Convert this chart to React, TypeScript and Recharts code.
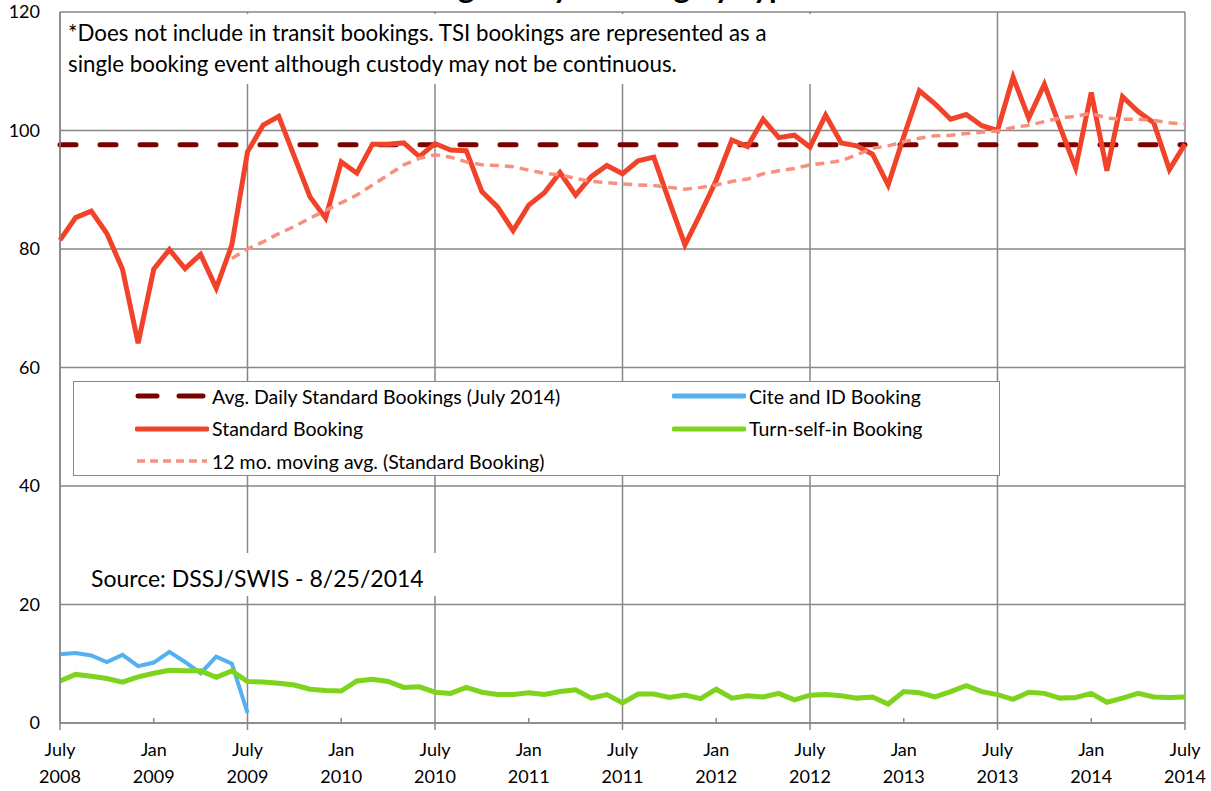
import React from 'react';
import { LineChart, Line, XAxis, YAxis, CartesianGrid, Legend } from 'recharts';

// months since July 2008 (0 = July 2008 ... 72 = July 2014)
const MONTH_COUNT = 73;

const TICK_LABELS = [
  ['July', '2008'], ['Jan', '2009'], ['July', '2009'], ['Jan', '2010'], ['July', '2010'],
  ['Jan', '2011'], ['July', '2011'], ['Jan', '2012'], ['July', '2012'], ['Jan', '2013'],
  ['July', '2013'], ['Jan', '2014'], ['July', '2014'],
];
const X_TICKS = [0, 6, 12, 18, 24, 30, 36, 42, 48, 54, 60, 66, 72];
const JULY_TICKS = [0, 12, 24, 36, 48, 60, 72];
const Y_TICKS = [0, 20, 40, 60, 80, 100, 120];

const AVG_JULY_2014 = 97.6;

const standardBooking = [
  81.5, 85.3, 86.4, 82.6, 76.6, 64.1, 76.6, 79.9, 76.7, 79.1, 73.4, 80.7,
  96.4, 100.9, 102.4, 95.6, 88.8, 85.2, 94.7, 92.8, 97.7, 97.7, 97.9, 95.6,
  97.8, 96.7, 96.6, 89.7, 87.1, 83.1, 87.4, 89.5, 92.9, 89.1, 92.2, 94.1,
  92.7, 94.9, 95.5, 88.0, 80.7, 86.0, 91.6, 98.4, 97.3, 101.9, 98.8, 99.2,
  97.2, 102.6, 97.9, 97.4, 96.0, 90.8, 99.0, 106.7, 104.5, 101.9, 102.7, 100.8,
  100.0, 109.0, 102.1, 107.8, 100.6, 93.7, 106.4, 93.2, 105.7, 103.2, 101.3, 93.4, 97.7,
];

const movingAvg = [
  null, null, null, null, null, null, null, null, null, null, null, 78.4,
  80.0, 81.2, 82.6, 83.8, 85.2, 86.5, 87.8, 89.1, 90.8, 92.5, 94.2, 95.3,
  95.9, 95.5, 94.7, 94.2, 94.1, 93.9, 93.3, 92.8, 92.5, 91.9, 91.4, 91.2,
  91.0, 90.8, 90.7, 90.4, 90.1, 90.4, 90.8, 91.4, 91.8, 92.7, 93.2, 93.6,
  94.2, 94.5, 94.9, 95.9, 97.0, 97.4, 98.1, 98.7, 99.1, 99.2, 99.5, 99.7,
  99.9, 100.5, 100.9, 101.5, 102.1, 102.4, 102.9, 102.1, 101.9, 101.9, 101.7, 101.3, 101.1,
];

const citeIdBooking = [11.6, 11.8, 11.4, 10.3, 11.5, 9.6, 10.2, 12.0, 10.3, 8.4, 11.2, 10.0, 1.7];

const tsiBooking = [
  7.1, 8.2, 7.9, 7.5, 6.9, 7.8, 8.4, 8.9, 8.8, 8.8, 7.7, 8.8,
  7.0, 6.9, 6.7, 6.4, 5.7, 5.5, 5.4, 7.1, 7.4, 7.0, 6.0, 6.1,
  5.2, 5.0, 6.0, 5.2, 4.8, 4.8, 5.1, 4.8, 5.3, 5.6, 4.2, 4.8,
  3.4, 4.9, 4.9, 4.3, 4.7, 4.1, 5.7, 4.2, 4.6, 4.4, 5.0, 3.9,
  4.7, 4.8, 4.6, 4.2, 4.4, 3.2, 5.3, 5.1, 4.4, 5.3, 6.3, 5.3,
  4.8, 4.0, 5.2, 5.0, 4.2, 4.3, 5.0, 3.5, 4.2, 5.0, 4.4, 4.3, 4.4,
];

const C_AVG = '#7b0000';
const C_STD = '#f0432a';
const C_MA = '#f7907f';
const C_CITE = '#55b0ef';
const C_TSI = '#7ed31c';
const GRID = '#878787';
const FONT = 'Lato, "Noto Sans", sans-serif';

const data = Array.from({ length: MONTH_COUNT }, (_, i) => ({
  month: i,
  avg: AVG_JULY_2014,
  cite: i < citeIdBooking.length ? citeIdBooking[i] : null,
  standard: standardBooking[i],
  tsi: tsiBooking[i],
  ma: movingAvg[i],
}));

const XTick = (props: any) => {
  const { x, y, payload } = props;
  const label = TICK_LABELS[X_TICKS.indexOf(payload.value)] || ['', ''];
  const july = payload.value % 12 === 0;
  return (
    <g>
      {july
        ? <line x1={x} x2={x} y1={y} y2={y + 7} stroke={GRID} strokeWidth={1.5} />
        : <line x1={x} x2={x} y1={y - 5} y2={y} stroke={GRID} strokeWidth={1.5} />}
      <text x={x} y={y + 33} textAnchor="middle" fontSize={18} fontFamily={FONT} fill="#000">{label[0]}</text>
      <text x={x} y={y + 60} textAnchor="middle" fontSize={18} fontFamily={FONT} fill="#000">{label[1]}</text>
    </g>
  );
};

const legendItems = [
  { name: 'Avg. Daily Standard Bookings (July 2014)', color: C_AVG, kind: 'avg', col: 0, row: 0 },
  { name: 'Cite and ID Booking', color: C_CITE, kind: 'solid', col: 1, row: 0 },
  { name: 'Standard Booking', color: C_STD, kind: 'solid', col: 0, row: 1 },
  { name: 'Turn-self-in Booking', color: C_TSI, kind: 'solid', col: 1, row: 1 },
  { name: '12 mo. moving avg. (Standard Booking)', color: C_MA, kind: 'ma', col: 0, row: 2 },
];

const renderLegend = () => (
  <div style={{ position: 'relative', width: '100%', height: '100%', boxSizing: 'border-box', border: `1.5px solid ${GRID}`, background: '#fff' }}>
    {legendItems.map((it) => {
      const left = it.col === 0 ? 61 : 598;
      const top = 14 + it.row * 32.5;
      return (
        <div key={it.name} style={{ position: 'absolute', left, top: top - 12, height: 24, display: 'flex', alignItems: 'center' }}>
          <svg width={74} height={10} style={{ marginRight: 3 }}>
            {it.kind === 'avg' && (
              <g stroke={it.color} strokeWidth={5} strokeLinecap="round">
                <line x1={3} x2={22} y1={5} y2={5} />
                <line x1={44} x2={68} y1={5} y2={5} />
              </g>
            )}
            {it.kind === 'solid' && <line x1={2} x2={72} y1={5} y2={5} stroke={it.color} strokeWidth={5} strokeLinecap="round" />}
            {it.kind === 'ma' && <line x1={2} x2={72} y1={5} y2={5} stroke={it.color} strokeWidth={3.5} strokeDasharray="8 5" />}
          </svg>
          <span style={{ fontFamily: FONT, fontSize: 19.5, color: '#000', whiteSpace: 'nowrap' }}>{it.name}</span>
        </div>
      );
    })}
  </div>
);

export default function App() {
  return (
    <div style={{ position: 'absolute', left: 0, top: 0, width: 1211, height: 791, background: '#fff' }}>
      <LineChart width={1211} height={791} data={data} margin={{ top: 12, right: 26, bottom: 0, left: 0 }}>
        <CartesianGrid stroke={GRID} strokeWidth={1.5} verticalValues={JULY_TICKS} fill="none" />
        <XAxis
          dataKey="month"
          type="number"
          domain={[0, 72]}
          ticks={X_TICKS}
          interval={0}
          height={68}
          tickSize={0}
          tickMargin={0}
          tickLine={false}
          axisLine={{ stroke: GRID, strokeWidth: 1.5 }}
          tick={<XTick />}
        />
        <YAxis
          domain={[0, 120]}
          ticks={Y_TICKS}
          interval={0}
          width={60}
          tickLine={false}
          tickSize={0}
          tickMargin={20}
          axisLine={{ stroke: GRID, strokeWidth: 1.5 }}
          tick={{ fill: '#000', fontSize: 18, fontFamily: FONT }}
        />
        <Legend
          layout="horizontal"
          verticalAlign="middle"
          align="center"
          content={renderLegend}
          wrapperStyle={{ left: 73, top: 381, width: 927, height: 95 }}
        />
        <Line dataKey="avg" name="Avg. Daily Standard Bookings (July 2014)" stroke={C_AVG} strokeWidth={5} strokeDasharray="16 24" strokeLinecap="round" dot={false} activeDot={false} isAnimationActive={false} />
        <Line dataKey="cite" name="Cite and ID Booking" stroke={C_CITE} strokeWidth={4} dot={false} activeDot={false} isAnimationActive={false} />
        <Line dataKey="standard" name="Standard Booking" stroke={C_STD} strokeWidth={5} dot={false} activeDot={false} isAnimationActive={false} />
        <Line dataKey="tsi" name="Turn-self-in Booking" stroke={C_TSI} strokeWidth={5} dot={false} activeDot={false} isAnimationActive={false} />
        <Line dataKey="ma" name="12 mo. moving avg. (Standard Booking)" stroke={C_MA} strokeWidth={3.5} strokeDasharray="9 6" dot={false} activeDot={false} isAnimationActive={false} />
      </LineChart>

      {/* title sits mostly above the visible page, as in the source image */}
      <svg width={1211} height={20} style={{ position: 'absolute', left: 0, top: 0 }}>
        <text x={597} y={-2} textAnchor="middle" fontSize={31} fontWeight="bold" fontFamily={FONT} fill="#000">
          Average Daily Booking by Type*
        </text>
      </svg>

      <div style={{ position: 'absolute', left: 61, top: 14, width: 754, height: 70, background: '#fff', fontFamily: FONT, fontSize: 22.3, lineHeight: '31px', paddingTop: 3, paddingLeft: 7, boxSizing: 'border-box', color: '#000', whiteSpace: 'nowrap' }}>
        *Does not include in transit bookings. TSI bookings are represented as a<br />
        single booking event although custody may not be continuous.
      </div>

      <div style={{ position: 'absolute', left: 61, top: 553, width: 380, height: 43, background: '#fff', fontFamily: FONT, fontSize: 23, lineHeight: '50px', paddingLeft: 30, boxSizing: 'border-box', color: '#000', whiteSpace: 'nowrap' }}>
        Source: DSSJ/SWIS - 8/25/2014
      </div>
    </div>
  );
}
